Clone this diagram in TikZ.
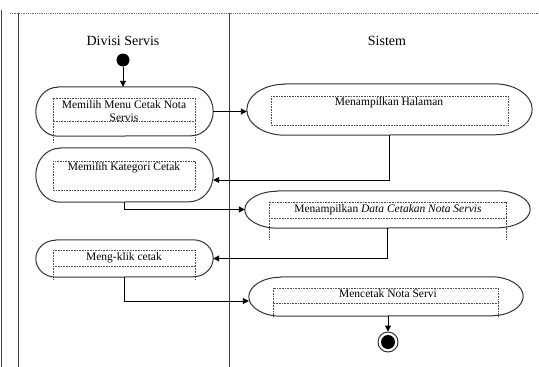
\documentclass[tikz,border=0pt]{standalone}
\usepackage{fontspec}
\setmainfont{Liberation Serif}
\usetikzlibrary{arrows.meta,calc}
\tikzset{
  lane/.style={draw=black!75, line width=0.9pt},
  lanetop/.style={draw=black!55, line width=0.9pt, dash pattern=on 1pt off 0.8pt},
  act/.style={rectangle, draw=none, inner sep=0pt},
  actline/.style={draw=black!80, line width=1pt},
  frame/.style={draw=black!70, line width=0.6pt, dash pattern=on 0.8pt off 0.8pt},
  acttext/.style={font=\fontsize{11.5}{13}\selectfont, anchor=base, inner sep=0pt},
  head/.style={font=\fontsize{14}{16}\selectfont, anchor=base, inner sep=0pt},
  flow/.style={draw=black, line width=0.9pt, -{Triangle[length=6pt,width=6pt]}},
}
% outline of an activity: node name, horizontal end radius, half height
\newcommand\actoutline[3]{%
  \draw[actline] ($(#1.north west)+(#2,0)$) -- ($(#1.north east)+(-#2,0)$)
    arc[start angle=90, end angle=-90, x radius=#2pt, y radius=#3pt]
    -- ($(#1.south west)+(#2,0)$)
    arc[start angle=270, end angle=90, x radius=#2pt, y radius=#3pt] -- cycle;}
\begin{document}
\begin{tikzpicture}[x=1pt,y=-1pt]
\useasboundingbox (0,0) rectangle (539,367);
\fill[white] (0,0) rectangle (539,367);

% swimlane borders
\draw[lane] (1.5,10) -- (1.5,367);
\draw[lane] (18.5,13) -- (18.5,367);
\draw[lane] (229,13) -- (229,367);
\draw[lanetop] (10,13) -- (539,13);

% lane titles
\node[head] (h1) at (123,45) {Divisi Servis};
\node[head] (h2) at (387,45) {Sistem};

% activity bodies
\node[act, minimum width=177pt, minimum height=49pt] (a1) at (124.5,111.5) {};
\node[act, minimum width=285pt, minimum height=51pt] (a2) at (389.5,109.5) {};
\node[act, minimum width=177pt, minimum height=54pt] (a3) at (124.5,175) {};
\node[act, minimum width=285pt, minimum height=37pt] (a4) at (387.5,209.5) {};
\node[act, minimum width=177pt, minimum height=37pt] (a5) at (124.5,258.5) {};
\node[act, minimum width=274pt, minimum height=39pt] (a6) at (386,296.5) {};

\actoutline{a1}{22}{24.5}
\actoutline{a2}{38}{25.5}
\actoutline{a3}{24}{27}
\actoutline{a4}{33}{18.5}
\actoutline{a5}{20}{18.5}
\actoutline{a6}{32}{19.5}

% dotted text frames
\draw[frame] (53,121) -- (53,98) -- (195,98) -- (195,121) -- cycle;
\draw[frame] (53,121) -- (53,143) (195,121) -- (195,143);
\draw[frame] (271,96) rectangle (508,125);
\draw[frame] (53,161) rectangle (195,190);
\draw[frame] (269,202) rectangle (506,218);
\draw[frame] (269,218) -- (269,240) (506,218) -- (506,240);
\draw[frame] (53,250) rectangle (195,266);
\draw[frame] (53,266) -- (53,279) (195,266) -- (195,279);
\draw[frame] (273,288) rectangle (498,303);
\draw[frame] (273,303) -- (273,317) (498,303) -- (498,317);

% activity texts
\node[acttext] (t1) at (124,108) {Memilih Menu Cetak Nota};
\node[acttext] (t1b) at (124,121) {Servis};
\node[acttext] (t2) at (389,105) {Menampilkan Halaman};
\node[acttext] (t3) at (124,170) {Memilih Kategori Cetak};
\node[acttext] (t4) at (388,212) {Menampilkan \textit{Data Cetakan Nota Servis}};
\node[acttext] (t5) at (124,260) {Meng-klik cetak};
\node[acttext] (t6) at (388,297) {Mencetak Nota Servi};

% initial and final nodes
\node[circle, fill=black, minimum size=13pt, inner sep=0pt] (start) at (123,60) {};
\node[circle, draw=black!85, line width=0.9pt, minimum size=20pt, inner sep=0pt] (stop) at (388,342) {};
\fill[black] (stop.center) circle[radius=7pt];

% control flow
\draw[flow] (start) -- (start |- a1.north);
\draw[flow] (a1.east) -- (a1.east -| a2.west);
\draw[flow] (a2.south) |- ([yshift=-5pt]a3.east);
\draw[flow] (a3.south) |- (a4.west);
\draw[flow] (a4.south) |- (a5.east);
\draw[flow] (a5.south) |- ([yshift=-4.5pt]a6.west);
\draw[flow] (a6.south -| stop) -- (stop.north);
\end{tikzpicture}
\end{document}
